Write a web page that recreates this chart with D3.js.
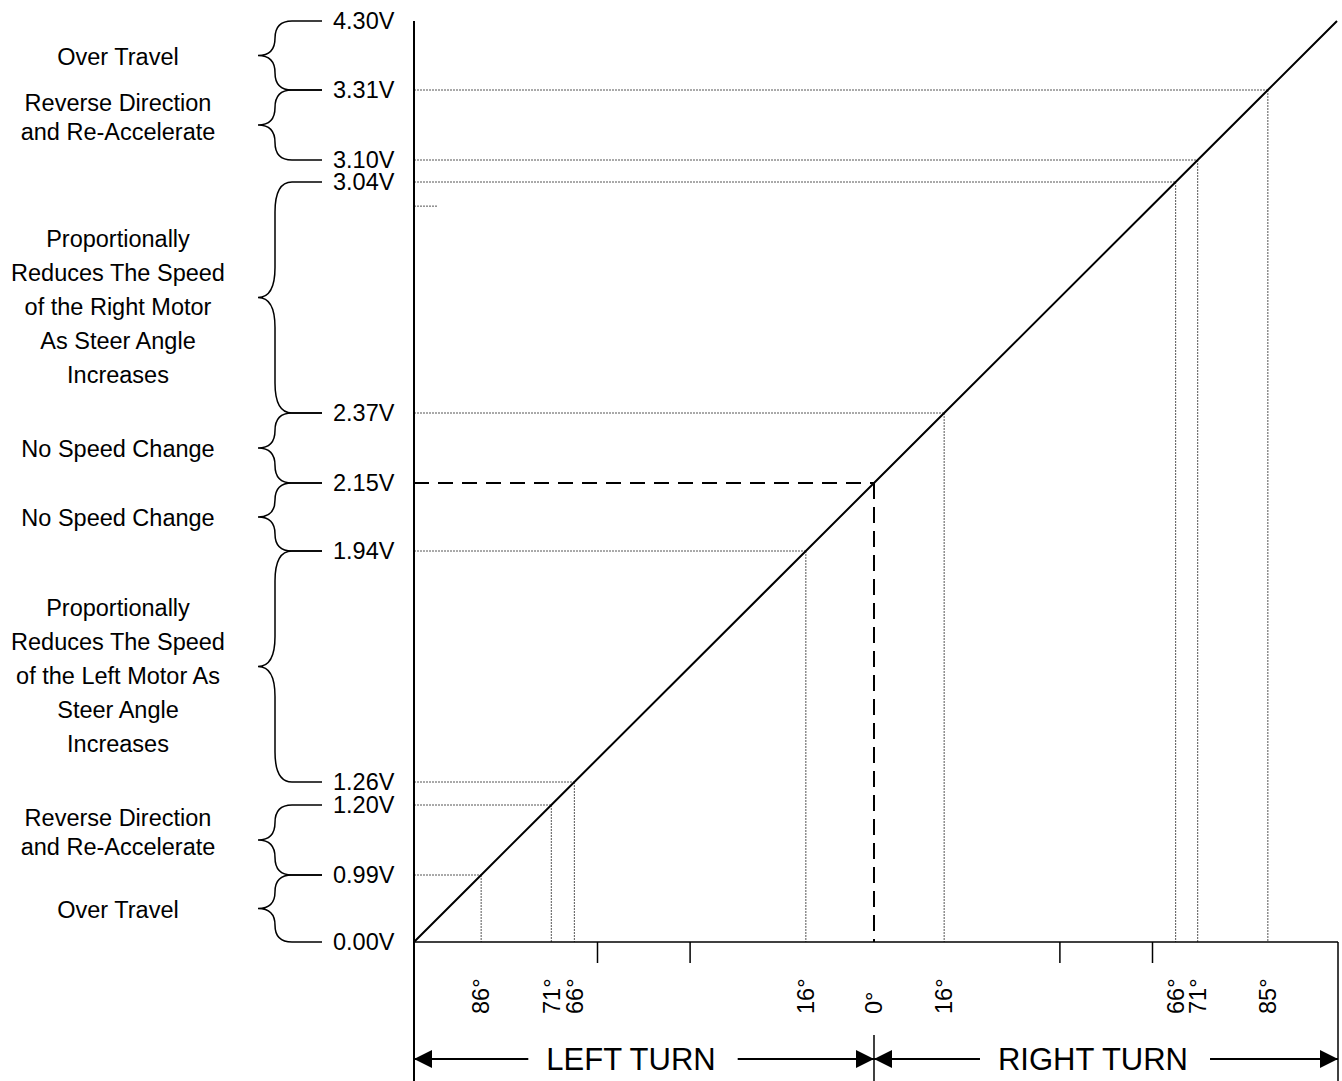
<!DOCTYPE html>
<html>
<head>
<meta charset="utf-8">
<script src="https://cdn.jsdelivr.net/npm/d3@7"></script>
<style>
  html, body { margin: 0; padding: 0; background: #fff; }
  svg { display: block; font-family: "Liberation Sans", Arial, sans-serif; }
</style>
</head>
<body>
<svg id="chart" width="1342" height="1081"></svg>
<script>
// ---------------- DATA ----------------
const voltages = [0.00, 0.99, 1.20, 1.26, 1.94, 2.15, 2.37, 3.04, 3.10, 3.31, 4.30];
const voltLabels = voltages.map(v => v.toFixed(2) + "V");

const leftAngles  = [86, 71, 66, 16];
const leftVolts   = [0.99, 1.20, 1.26, 1.94];
const centerAngle = 0;
const centerVolt  = 2.15;
const rightAngles = [16, 66, 71, 85];
const rightVolts  = [2.37, 3.04, 3.10, 3.31];

const minorAngleTicks = [-61, -41, 41, 61];
const stubVolts = [2.97];

const braceRanges = [[4.30, 3.31], [3.31, 3.10], [3.04, 2.37], [2.37, 2.15],
                     [2.15, 1.94], [1.94, 1.26], [1.20, 0.99], [0.99, 0.00]];
const braceTexts = [
  ["Over Travel"],
  ["Reverse Direction", "and Re-Accelerate"],
  ["Proportionally", "Reduces The Speed", "of the Right Motor", "As Steer Angle", "Increases"],
  ["No Speed Change"],
  ["No Speed Change"],
  ["Proportionally", "Reduces The Speed", "of the Left Motor As", "Steer Angle", "Increases"],
  ["Reverse Direction", "and Re-Accelerate"],
  ["Over Travel"]
];
const turnLabels = ["LEFT TURN", "RIGHT TURN"];

// ---------------- LAYOUT ----------------
const svg = d3.select("#chart");
const axisX = 414, xRightEnd = 1337;
// schematic (non-uniform) vertical layout of the voltage ladder
const yScale = d3.scaleLinear()
  .domain(voltages)
  .range([942, 875, 805, 782, 551, 483, 413, 182, 160, 90, 21]);
const yBottom = yScale(0), yTop = yScale(4.30);
// diagonal: maps a pixel y on the ladder to the x where it meets the line
const diag = d3.scaleLinear().domain([yBottom, yTop]).range([axisX, xRightEnd]);

const signedAngles = leftAngles.map(a => -a).concat([centerAngle], rightAngles);
const pairVolts = leftVolts.concat([centerVolt], rightVolts);
const xScale = d3.scaleLinear()
  .domain(signedAngles)
  .range(pairVolts.map(v => diag(yScale(v))));

const font = 23.5;

// ---------------- GUIDE LINES ----------------
const pairs = signedAngles.map((a, i) => ({a, v: pairVolts[i]}));
const dotted = pairs.filter(p => p.a !== centerAngle);
svg.append("g").selectAll("line.h").data(dotted).join("line")
  .attr("x1", axisX).attr("x2", d => xScale(d.a))
  .attr("y1", d => yScale(d.v)).attr("y2", d => yScale(d.v))
  .attr("stroke", "#555").attr("stroke-width", 1).attr("stroke-dasharray", "2,1");
svg.append("g").selectAll("line.v").data(dotted).join("line")
  .attr("x1", d => xScale(d.a)).attr("x2", d => xScale(d.a))
  .attr("y1", d => yScale(d.v)).attr("y2", yBottom)
  .attr("stroke", "#555").attr("stroke-width", 1).attr("stroke-dasharray", "2,1");

// stray stub
svg.append("g").selectAll("line").data(stubVolts).join("line")
  .attr("x1", axisX).attr("x2", axisX + 23)
  .attr("y1", d => yScale(d)).attr("y2", d => yScale(d))
  .attr("stroke", "#555").attr("stroke-width", 1).attr("stroke-dasharray", "2,1");

// centre dashed lines
const cx = xScale(centerAngle), cy = yScale(centerVolt);
svg.append("line").attr("x1", axisX).attr("x2", cx).attr("y1", cy).attr("y2", cy)
  .attr("stroke", "#000").attr("stroke-width", 2).attr("stroke-dasharray", "15,9");
svg.append("line").attr("x1", cx).attr("x2", cx).attr("y1", cy).attr("y2", yBottom)
  .attr("stroke", "#000").attr("stroke-width", 2).attr("stroke-dasharray", "16,8");

// diagonal
svg.append("path")
  .datum(voltages)
  .attr("d", d3.line().x(v => diag(yScale(v))).y(v => yScale(v)))
  .attr("fill", "none").attr("stroke", "#000").attr("stroke-width", 2);

// axes
svg.append("line").attr("x1", axisX).attr("x2", axisX).attr("y1", yTop).attr("y2", 1081)
  .attr("stroke", "#000").attr("stroke-width", 2);
svg.append("line").attr("x1", axisX).attr("x2", xRightEnd + 1).attr("y1", yBottom).attr("y2", yBottom)
  .attr("stroke", "#000").attr("stroke-width", 1.5);
svg.append("line").attr("x1", xRightEnd + 1).attr("x2", xRightEnd + 1).attr("y1", yBottom).attr("y2", 1081)
  .attr("stroke", "#000").attr("stroke-width", 1.5);

// minor ticks
svg.append("g").selectAll("line").data(minorAngleTicks).join("line")
  .attr("x1", d => xScale(d)).attr("x2", d => xScale(d))
  .attr("y1", yBottom).attr("y2", yBottom + 21)
  .attr("stroke", "#000").attr("stroke-width", 1.5);

// angle labels (rotated)
svg.append("g").selectAll("text").data(pairs).join("text")
  .attr("transform", d => `translate(${xScale(d.a)},1014) rotate(-90)`)
  .attr("text-anchor", "start").attr("dy", "0.35em")
  .attr("font-size", font)
  .text(d => Math.abs(d.a) + "\u00B0");

// voltage labels
svg.append("g").selectAll("text").data(voltages).join("text")
  .attr("x", 333).attr("y", d => yScale(d)).attr("dy", "0.35em")
  .attr("font-size", font)
  .text((d, i) => voltLabels[i]);

// braces
const xArm = 322, xCurve = 292, xSpine = 275, xTip = 258;
function bracePath(y1, y2) {
  const h = y2 - y1, ym = (y1 + y2) / 2;
  const r = Math.min(30, h / 4);
  return `M${xArm},${y1}H${xCurve}Q${xSpine},${y1} ${xSpine},${y1 + r}` +
         `V${ym - r}Q${xSpine},${ym} ${xTip},${ym}` +
         `Q${xSpine},${ym} ${xSpine},${ym + r}V${y2 - r}` +
         `Q${xSpine},${y2} ${xCurve},${y2}H${xArm}`;
}
svg.append("g").selectAll("path").data(braceRanges).join("path")
  .attr("d", d => bracePath(yScale(d[0]), yScale(d[1])))
  .attr("fill", "none").attr("stroke", "#000").attr("stroke-width", 1.5);

// brace descriptions
const descG = svg.append("g");
braceRanges.forEach((r, i) => {
  const lines = braceTexts[i];
  const ym = (yScale(r[0]) + yScale(r[1])) / 2;
  const lh = lines.length > 2 ? 34 : 29;
  const shift = lines.length > 2 ? 9 : (lines.length === 2 ? -8 : 1);
  const start = ym + shift - (lines.length - 1) * lh / 2;
  lines.forEach((t, j) => {
    descG.append("text")
      .attr("x", 118).attr("y", start + j * lh).attr("dy", "0.35em")
      .attr("text-anchor", "middle").attr("font-size", font)
      .text(t);
  });
});

// turn arrows
const arrowY = 1059;
const spans = [[axisX, cx], [cx, xRightEnd + 1]];
svg.append("line").attr("x1", cx).attr("x2", cx).attr("y1", 1035).attr("y2", 1081)
  .attr("stroke", "#000").attr("stroke-width", 1.5);
spans.forEach((s, i) => {
  const mid = (s[0] + s[1]) / 2 - 13;
  const t = svg.append("text").attr("x", mid).attr("y", arrowY).attr("dy", "0.35em")
    .attr("text-anchor", "middle").attr("font-size", 31).text(turnLabels[i]);
  const bb = t.node().getBBox();
  svg.append("line").attr("x1", s[0]).attr("x2", bb.x - 18).attr("y1", arrowY).attr("y2", arrowY)
    .attr("stroke", "#000").attr("stroke-width", 2);
  svg.append("line").attr("x1", bb.x + bb.width + 22).attr("x2", s[1]).attr("y1", arrowY).attr("y2", arrowY)
    .attr("stroke", "#000").attr("stroke-width", 2);
  svg.append("path").attr("d", `M${s[0]},${arrowY}L${s[0] + 18},${arrowY - 9}L${s[0] + 18},${arrowY + 9}Z`);
  svg.append("path").attr("d", `M${s[1]},${arrowY}L${s[1] - 18},${arrowY - 9}L${s[1] - 18},${arrowY + 9}Z`);
});
</script>
</body>
</html>
